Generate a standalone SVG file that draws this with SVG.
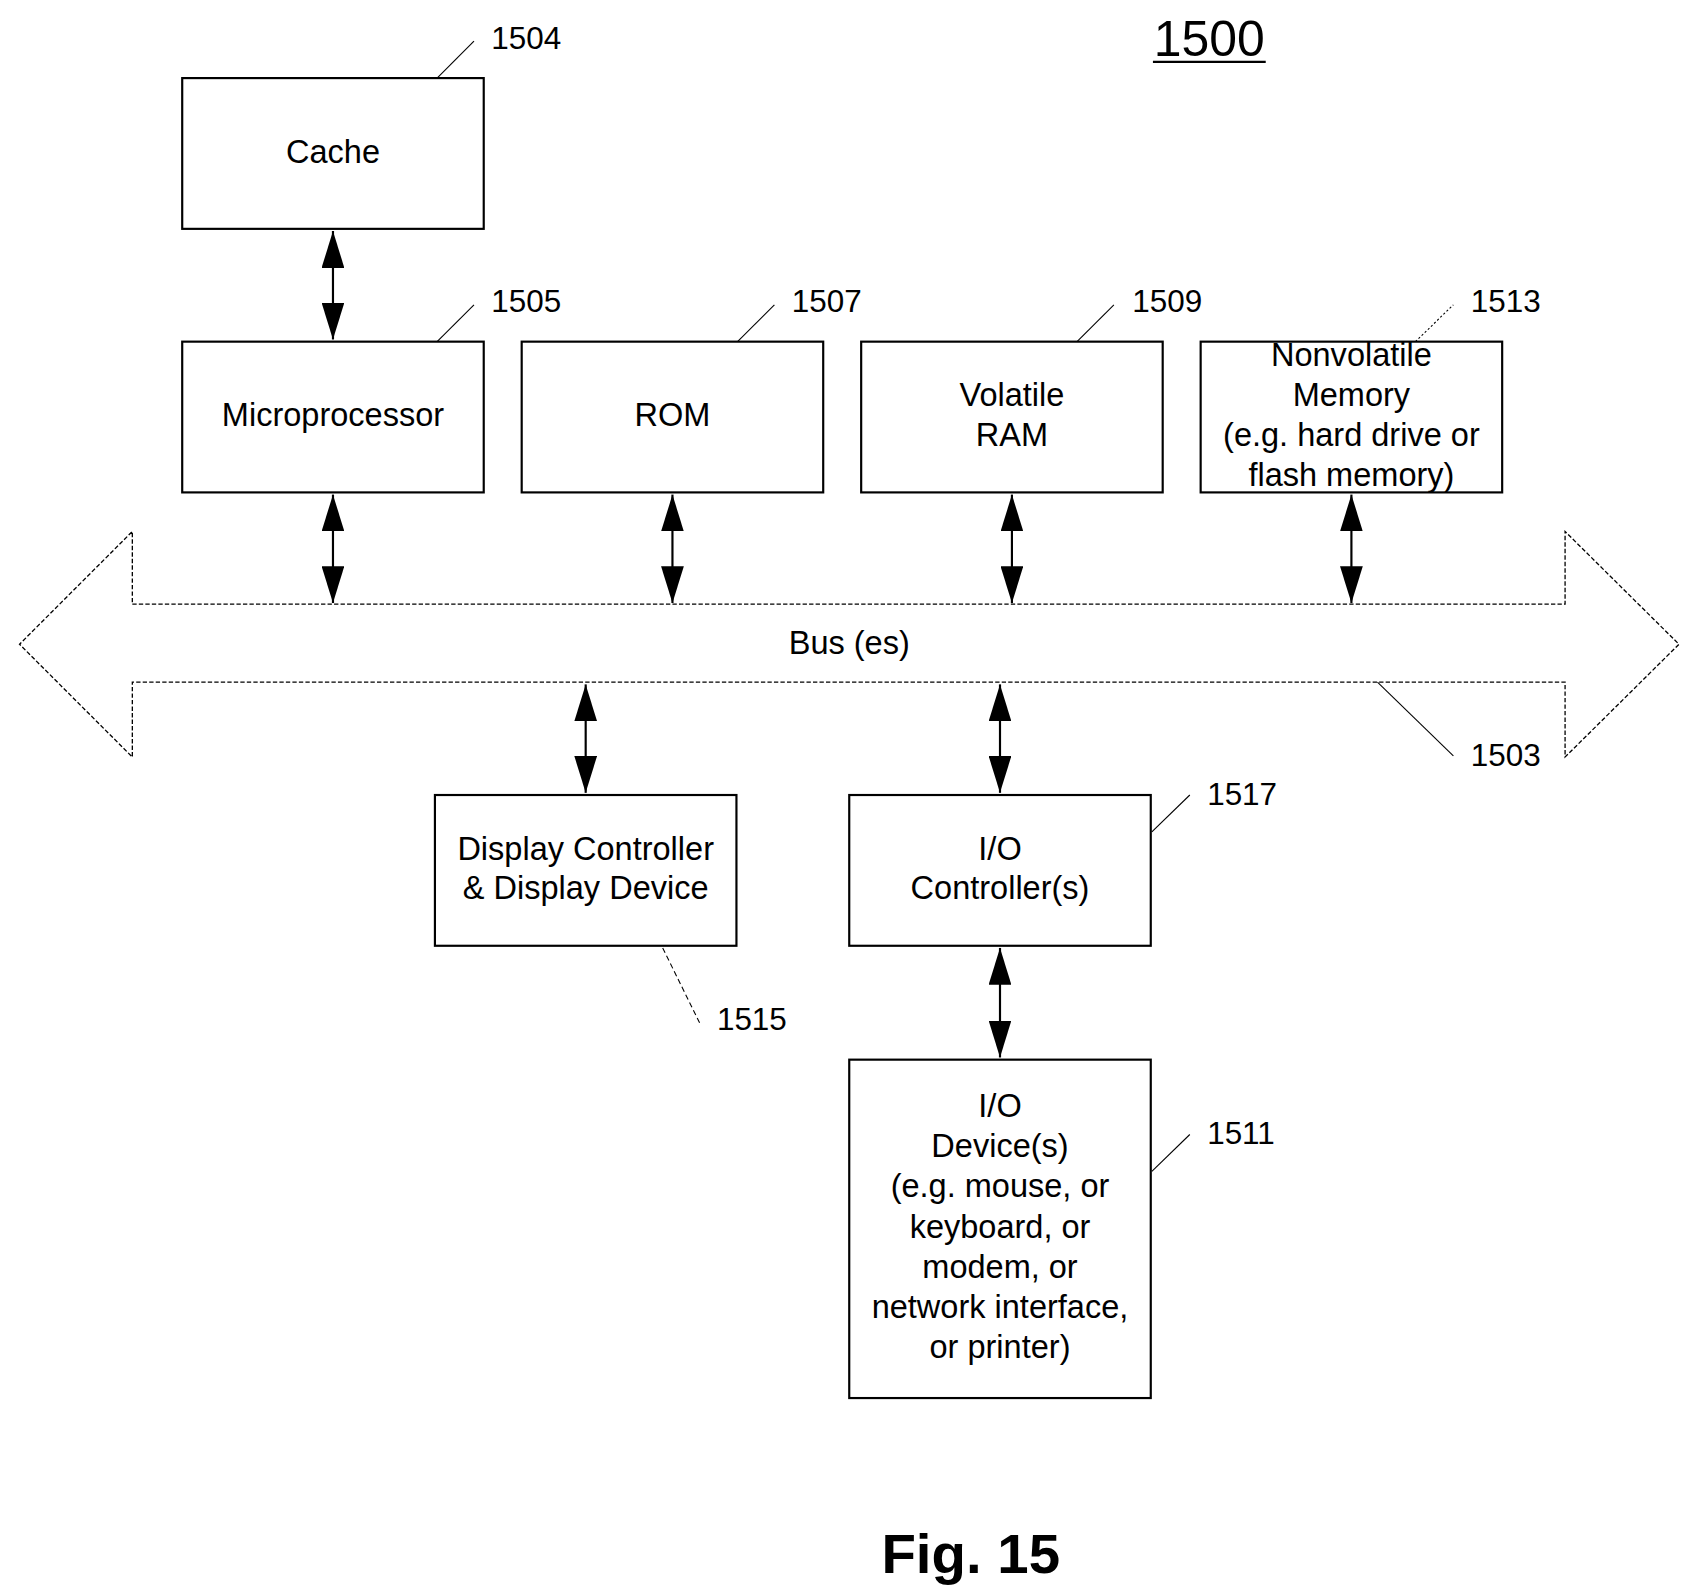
<svg xmlns="http://www.w3.org/2000/svg" width="1692" height="1586" viewBox="0 0 1692 1586">
<style>
.b{fill:#fff;stroke:#000;stroke-width:2}
.t{font-family:"Liberation Sans",Arial,sans-serif;font-size:30px;text-anchor:middle;fill:#000}
.n{font-family:"Liberation Sans",Arial,sans-serif;font-size:29px;fill:#000}
.c{stroke:#000;stroke-width:2;fill:none;marker-start:url(#a);marker-end:url(#a)}
.l{stroke:#000;stroke-width:1;fill:none}
</style>
<defs><marker id="a" viewBox="0 0 34 21" refX="34" refY="10.5" markerWidth="34" markerHeight="21" markerUnits="userSpaceOnUse" orient="auto-start-reverse"><path d="M0,0L34,10.5L0,21z" fill="#000"/></marker></defs>
<rect width="1692" height="1586" fill="#fff"/>
<g transform="scale(1.0846)">
<g id="bus"><path d="M122,557H1443V490L1548,594L1443,698V629H122V698L18,594L122,490Z" fill="#fff" stroke="#000" stroke-width="1.2" stroke-dasharray="4,2"/><text class="t" x="783" y="603">Bus (es)</text></g>
<g id="cache"><rect class="b" x="168" y="72" width="278" height="139"/><text class="t" x="307" y="150">Cache</text></g>
<g id="micro"><rect class="b" x="168" y="315" width="278" height="139"/><text class="t" x="307" y="393">Microprocessor</text></g>
<g id="rom"><rect class="b" x="481" y="315" width="278" height="139"/><text class="t" x="620" y="393">ROM</text></g>
<g id="vram"><rect class="b" x="794" y="315" width="278" height="139"/><text class="t" x="933" y="374">Volatile</text><text class="t" x="933" y="411">RAM</text></g>
<g id="nvm"><rect class="b" x="1107" y="315" width="278" height="139"/><text class="t" x="1246" y="337">Nonvolatile</text><text class="t" x="1246" y="374">Memory</text><text class="t" x="1246" y="411">(e.g. hard drive or</text><text class="t" x="1246" y="448">flash memory)</text></g>
<g id="disp"><rect class="b" x="401" y="733" width="278" height="139"/><text class="t" x="540" y="793">Display Controller</text><text class="t" x="540" y="829">&amp; Display Device</text></g>
<g id="ioc"><rect class="b" x="783" y="733" width="278" height="139"/><text class="t" x="922" y="793">I/O</text><text class="t" x="922" y="829">Controller(s)</text></g>
<g id="iod"><rect class="b" x="783" y="977" width="278" height="312"/><text class="t" x="922" y="1030">I/O</text><text class="t" x="922" y="1067">Device(s)</text><text class="t" x="922" y="1104">(e.g. mouse, or</text><text class="t" x="922" y="1141">keyboard, or</text><text class="t" x="922" y="1178">modem, or</text><text class="t" x="922" y="1215">network interface,</text><text class="t" x="922" y="1252">or printer)</text></g>
<g id="connectors">
<line class="c" x1="307" y1="213" x2="307" y2="313"/>
<line class="c" x1="307" y1="456" x2="307" y2="556"/>
<line class="c" x1="620" y1="456" x2="620" y2="556"/>
<line class="c" x1="933" y1="456" x2="933" y2="556"/>
<line class="c" x1="1246" y1="456" x2="1246" y2="556"/>
<line class="c" x1="540" y1="631" x2="540" y2="731"/>
<line class="c" x1="922" y1="631" x2="922" y2="731"/>
<line class="c" x1="922" y1="874" x2="922" y2="975"/>
<line class="l" x1="403" y1="72" x2="437" y2="38"/>
<line class="l" x1="403" y1="315" x2="437" y2="281"/>
<line class="l" x1="680" y1="315" x2="714" y2="281"/>
<line class="l" x1="993" y1="315" x2="1027" y2="281"/>
<line class="l" x1="1305" y1="315" x2="1340" y2="281" stroke-dasharray="2,2"/>
<line class="l" x1="1270" y1="629" x2="1340" y2="697"/>
<line class="l" x1="1062" y1="767" x2="1097" y2="733"/>
<line class="l" x1="611" y1="874" x2="645" y2="943" stroke-dasharray="5,3"/>
<line class="l" x1="1062" y1="1080" x2="1097" y2="1046"/>
</g>
<text class="n" x="453" y="45">1504</text>
<text class="n" x="453" y="288">1505</text>
<text class="n" x="730" y="288">1507</text>
<text class="n" x="1044" y="288">1509</text>
<text class="n" x="1356" y="288">1513</text>
<text class="n" x="1356" y="706">1503</text>
<text class="n" x="1113" y="742">1517</text>
<text class="n" x="661" y="950">1515</text>
<text class="n" x="1113" y="1055">1511</text>
<text class="t" x="1115" y="52" style="font-size:46px">1500</text>
<line x1="1063" y1="57" x2="1167" y2="57" stroke="#000" stroke-width="2"/>
<text class="t" x="895" y="1450" style="font-size:52px;font-weight:bold">Fig. 15</text>
</g>
</svg>
